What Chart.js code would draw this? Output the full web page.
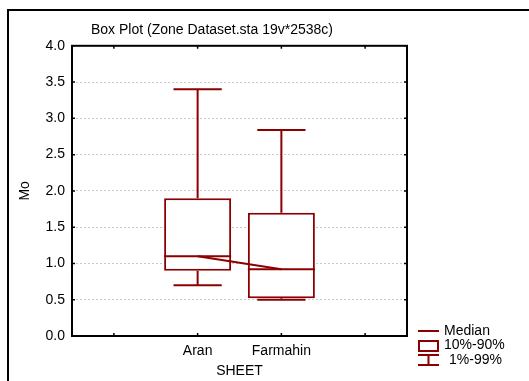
<!DOCTYPE html>
<html>
<head>
<meta charset="utf-8">
<title>Box Plot</title>
<script src="https://cdn.jsdelivr.net/npm/chart.js@4.4.1/dist/chart.umd.min.js"></script>
<style>
  html, body { margin: 0; padding: 0; background: #fff; }
  #wrap { position: relative; width: 529px; height: 381px; }
</style>
</head>
<body>
<div id="wrap"><canvas id="boxChart" width="529" height="381"></canvas></div>
<script>
// --- Data: percentiles of Mo per sheet ---
const categories = ['Aran', 'Farmahin'];
const p1 = [0.70, 0.50];
const p10 = [0.90, 0.52];
const medians = [1.10, 0.92];
const p90 = [1.90, 1.70];
const p99 = [3.40, 2.84];
const yTickStep = 0.5;
const yMin = 0, yMax = 4;

const RED = '#8b0000';
const FONT = { family: "Arial, 'Liberation Sans', sans-serif", size: 14 };

// blank slots either side so the two boxes sit in the middle ticks
const xLabels = ['', ...categories, ''];

// whiskers, median bars, plot frame, inward ticks and the legend
const boxExtras = {
    id: 'boxExtras',
    beforeDraw(chart) {
        const ctx = chart.ctx;
        ctx.save();
        ctx.strokeStyle = '#000';
        ctx.lineWidth = 2;
        ctx.beginPath();
        ctx.moveTo(8, chart.height);
        ctx.lineTo(8, 10);
        ctx.lineTo(chart.width, 10);
        ctx.stroke();
        ctx.restore();
    },
    afterDatasetsDraw(chart) {
        const ctx = chart.ctx;
        const y = chart.scales.y;
        const meta = chart.getDatasetMeta(0);
        ctx.save();
        ctx.strokeStyle = RED;
        ctx.lineWidth = 2;
        meta.data.forEach((bar, i) => {
            const cx = bar.x, half = bar.width / 2, cap = bar.width * 0.36;
            ctx.beginPath();
            // upper whisker
            ctx.moveTo(cx, y.getPixelForValue(p90[i]));
            ctx.lineTo(cx, y.getPixelForValue(p99[i]));
            ctx.moveTo(cx - cap, y.getPixelForValue(p99[i]));
            ctx.lineTo(cx + cap, y.getPixelForValue(p99[i]));
            // lower whisker
            ctx.moveTo(cx, y.getPixelForValue(p10[i]));
            ctx.lineTo(cx, y.getPixelForValue(p1[i]));
            ctx.moveTo(cx - cap, y.getPixelForValue(p1[i]));
            ctx.lineTo(cx + cap, y.getPixelForValue(p1[i]));
            // median
            ctx.moveTo(cx - half, y.getPixelForValue(medians[i]));
            ctx.lineTo(cx + half, y.getPixelForValue(medians[i]));
            ctx.stroke();
        });
        ctx.restore();
    },
    afterDraw(chart) {
        const ctx = chart.ctx;
        const a = chart.chartArea;
        const x = chart.scales.x, y = chart.scales.y;
        ctx.save();
        ctx.strokeStyle = '#000';
        ctx.lineWidth = 2;
        ctx.strokeRect(a.left, a.top, a.right - a.left, a.bottom - a.top);

        // small tick marks pointing into the plot on all four sides
        ctx.lineWidth = 1.5;
        ctx.beginPath();
        x.ticks.forEach((t, i) => {
            const px = x.getPixelForTick(i);
            ctx.moveTo(px, a.bottom); ctx.lineTo(px, a.bottom - 3);
            ctx.moveTo(px, a.top); ctx.lineTo(px, a.top + 3);
        });
        y.ticks.forEach(t => {
            const py = y.getPixelForValue(t.value);
            ctx.moveTo(a.left, py); ctx.lineTo(a.left + 3, py);
            ctx.moveTo(a.right, py); ctx.lineTo(a.right - 3, py);
        });
        ctx.stroke();

        // legend
        ctx.strokeStyle = RED;
        ctx.lineWidth = 2;
        ctx.beginPath();
        ctx.moveTo(418, 331); ctx.lineTo(439, 331);
        ctx.stroke();
        ctx.strokeRect(419, 341, 19, 10);
        ctx.beginPath();
        ctx.moveTo(418, 355); ctx.lineTo(439, 355);
        ctx.moveTo(428.5, 355); ctx.lineTo(428.5, 365);
        ctx.moveTo(418, 365); ctx.lineTo(439, 365);
        ctx.stroke();

        ctx.fillStyle = '#000';
        ctx.font = `${FONT.size}px ${FONT.family}`;
        ctx.textBaseline = 'middle';
        ctx.fillText('Median', 444, 331);
        ctx.fillText('10%-90%', 444, 345.5);
        ctx.fillText('1%-99%', 449, 360);
        ctx.restore();
    }
};

new Chart(document.getElementById('boxChart'), {
    data: {
        labels: xLabels,
        datasets: [
            {
                type: 'bar',
                order: 1,
                data: categories.map((c, i) => ({ x: c, y: [p10[i], p90[i]] })),
                backgroundColor: '#fff',
                borderColor: RED,
                borderWidth: 2,
                borderSkipped: false,
                barPercentage: 0.8,
                categoryPercentage: 1
            },
            {
                type: 'line',
                order: 0,
                data: categories.map((c, i) => ({ x: c, y: medians[i] })),
                borderColor: RED,
                borderWidth: 2,
                pointRadius: 0,
                tension: 0
            }
        ]
    },
    options: {
        responsive: false,
        animation: false,
        devicePixelRatio: 1,
        layout: { padding: { left: 17, right: 122, top: 0, bottom: 0 } },
        plugins: {
            legend: { display: false },
            tooltip: { enabled: false },
            title: {
                display: true,
                text: 'Box Plot (Zone Dataset.sta 19v*2538c)',
                color: '#000',
                font: { ...FONT, weight: 'normal' },
                padding: { top: 22, bottom: 7 }
            }
        },
        scales: {
            x: {
                type: 'category',
                offset: true,
                grid: { display: false, drawTicks: false },
                border: { display: false },
                ticks: { color: '#000', font: FONT, padding: 7, autoSkip: false, maxRotation: 0 },
                title: { display: true, text: 'SHEET', color: '#000', font: FONT, padding: { top: 0, bottom: 1 } },
                afterFit: s => { s.height = 45; }
            },
            y: {
                min: yMin,
                max: yMax,
                ticks: {
                    stepSize: yTickStep,
                    color: '#000',
                    font: FONT,
                    padding: 7,
                    callback: v => v.toFixed(1)
                },
                grid: { color: '#c8c8c8', lineWidth: 1, drawTicks: false },
                border: { display: false, dash: [2, 2] },
                title: { display: true, text: 'Mo', color: '#000', font: FONT, padding: { top: 0, bottom: 0 } },
                afterFit: s => { s.width = 55; }
            }
        }
    },
    plugins: [boxExtras]
});
</script>
</body>
</html>
